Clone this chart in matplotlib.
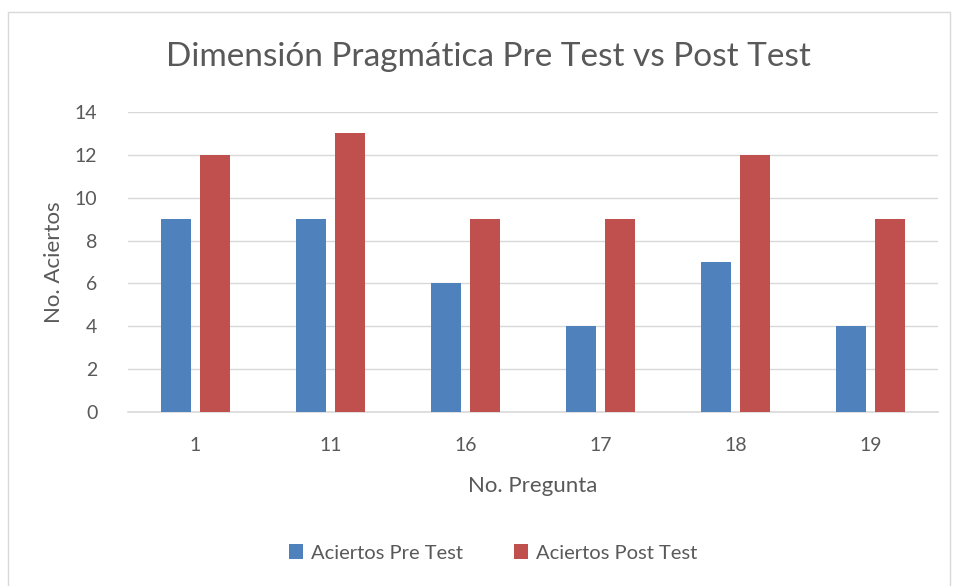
import numpy as np
import matplotlib

matplotlib.use("Agg")
import matplotlib.pyplot as plt
from matplotlib.patches import Rectangle

preguntas = ["1", "11", "16", "17", "18", "19"]
pre_test = [9, 9, 6, 4, 7, 4]
post_test = [12, 13, 9, 9, 12, 9]

plt.rcParams["font.family"] = ["Lato", "DejaVu Sans"]
text_color = "#595959"

W, H = 957, 586
fig = plt.figure(figsize=(W / 100, H / 100), dpi=100)
fig.patches.append(Rectangle((8 / W, -0.01), 942 / W, 1 - 12 / H + 0.01, transform=fig.transFigure,
                             fill=False, edgecolor="#D9D9D9", linewidth=1.0))

ax = fig.add_axes([128 / W, (H - 412) / H, (938 - 128) / W, 300 / H])
x = np.arange(len(preguntas))
width = 0.222
offset = 0.144
ax.bar(x - offset, pre_test, width, color="#4F81BD", label="Aciertos Pre Test", zorder=3)
ax.bar(x + offset, post_test, width, color="#C0504D", label="Aciertos Post Test", zorder=3)

ax.set_xlim(-0.5, len(preguntas) - 0.5)
ax.set_ylim(0, 14)
ax.set_yticks(range(0, 15, 2))
ax.set_xticks(x)
ax.set_xticklabels(preguntas)
ax.grid(axis="y", color="#D9D9D9", linewidth=1.0, zorder=0)
for side in ["top", "right", "left"]:
    ax.spines[side].set_visible(False)
ax.spines["bottom"].set_color("#D9D9D9")
ax.spines["bottom"].set_linewidth(1.2)
ax.tick_params(length=0, labelsize=14, colors=text_color)
ax.tick_params(axis="x", pad=18)
ax.tick_params(axis="y", pad=22)

ax.set_xlabel("No. Pregunta", fontsize=16, color=text_color, labelpad=16)
ax.set_ylabel("No. Aciertos", fontsize=16, color=text_color, labelpad=8)
fig.text(488 / W, 1 - 57 / H, "Dimensión Pragmática Pre Test vs Post Test", ha="center", va="center",
         fontsize=24, color=text_color)

fig.legend(loc="center", bbox_to_anchor=(493 / W, 1 - 553 / H), ncol=2, frameon=False,
           fontsize=14.5, labelcolor=text_color, handlelength=0.7, handleheight=0.7,
           columnspacing=2.5, handletextpad=0.4)

fig.savefig("out.png", dpi=100)
